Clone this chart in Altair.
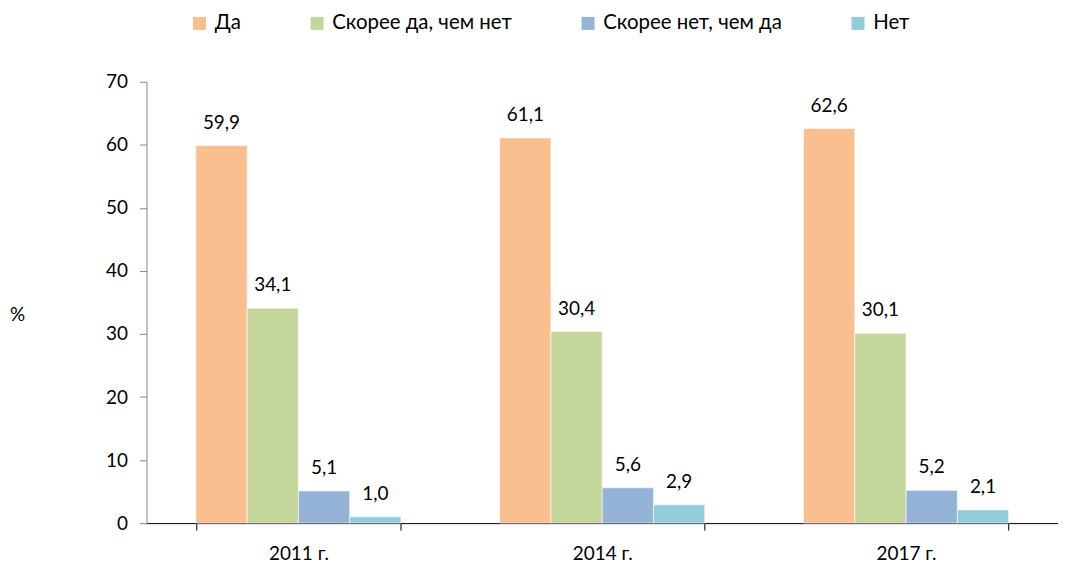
import altair as alt
import pandas as pd

years = ["2011 г.", "2014 г.", "2017 г."]
series = ["Да", "Скорее да, чем нет", "Скорее нет, чем да", "Нет"]
colors = ["#F9BF8F", "#C4D79B", "#95B3D7", "#92CDDC"]
da = [59.9, 61.1, 62.6]
skoree_da = [34.1, 30.4, 30.1]
skoree_net = [5.1, 5.6, 5.2]
net = [1.0, 2.9, 2.1]

vals = [da, skoree_da, skoree_net, net]
rows = []
for s, v in zip(series, vals):
    for y, x in zip(years, v):
        rows.append({"year": y, "series": s, "value": x})
df = pd.DataFrame(rows)

FONT = "Lato"

base = alt.Chart(df).encode(
    x=alt.X("year:N", sort=years, title=None,
            scale=alt.Scale(paddingInner=0.325, paddingOuter=0.1625),
            axis=alt.Axis(labelAngle=0, tickBand="extent", tickSize=7, labelPadding=15,
                          domainColor="#000000", tickColor="#000000", grid=False,
                          labelFontSize=19, labelFont=FONT, labelColor="#000000")),
    xOffset=alt.XOffset("series:N", sort=series, scale=alt.Scale(paddingInner=0, paddingOuter=0)),
)

yaxis = alt.Axis(values=list(range(0, 71, 10)), grid=False, tickSize=7,
                 labelPadding=12, domainColor="#868686", tickColor="#868686",
                 labelFontSize=19, labelFont=FONT, labelColor="#000000",
                 titleAngle=0, titleX=-130, titleY=244, titleFontSize=19,
                 titleFont=FONT, titleFontWeight="normal", titleColor="#000000")

bars = base.mark_bar(stroke="white", strokeWidth=0.6).encode(
    y=alt.Y("value:Q", title="%", scale=alt.Scale(domain=[0, 70]), axis=yaxis),
    color=alt.Color("series:N", sort=series,
                    scale=alt.Scale(domain=series, range=colors),
                    legend=alt.Legend(title=None, orient="none", direction="horizontal",
                                      legendX=43, legendY=-69, symbolType="square",
                                      symbolSize=170, symbolStrokeWidth=0,
                                      labelFontSize=20.5, labelFont=FONT, labelColor="#000000",
                                      columnPadding=66, labelOffset=5, labelLimit=400,
                                      columns=4)),
)

labels = base.transform_calculate(
    lbl="replace(format(datum.value, '.1f'), '.', ',')"
).mark_text(baseline="bottom", dy=-13, fontSize=19, font=FONT, color="#000000").encode(
    y=alt.Y("value:Q", title="%", scale=alt.Scale(domain=[0, 70]), axis=yaxis),
    text="lbl:N",
)

chart = alt.layer(bars, labels).properties(
    width=915, height=443,
    background="white",
    autosize=alt.AutoSizeParams(type="none"),
    padding={"left": 139, "top": 73, "right": 0, "bottom": 50},
).configure_view(stroke=None, strokeWidth=0).configure_axis(grid=False)

chart.save("out.html", embed_options={"renderer": "svg", "actions": False})
